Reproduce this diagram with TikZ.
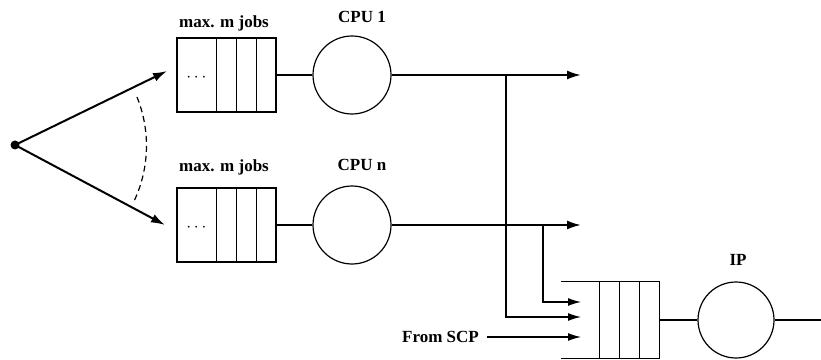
\documentclass[tikz,border=0pt]{standalone}
\usepackage{fontspec}
\setmainfont{Liberation Serif}
\usetikzlibrary{arrows.meta,calc,positioning}

\tikzset{
  queue/.style={draw, line width=1.2pt, minimum width=99pt, minimum height=74pt, inner sep=0pt},
  server/.style={draw, circle, line width=1.2pt, minimum size=78pt, inner sep=0pt},
  flow/.style={line width=2pt, -{Latex[length=14pt,width=9pt]}},
  feed/.style={line width=1.2pt, -{Latex[length=13pt,width=8pt]}},
  tag/.style={font=\fontsize{17}{20}\selectfont\bfseries, inner sep=0pt},
}

\begin{document}
\begin{tikzpicture}[x=1pt,y=1pt]
  \useasboundingbox (0,0) rectangle (821,359);
  % job source
  \node[circle, fill, inner sep=0pt, minimum size=9pt] (src) at (15,214) {};
  \coordinate (in1) at (167,288);
  \coordinate (in2) at (165,134);
  \draw[flow] (src.center) -- (in1);
  \draw[flow] (src.center) -- (in2);
  \draw[line width=1.2pt, dash pattern=on 6pt off 4pt] (137,262) arc[start angle=22, end angle=-25, radius=130];
  % CPU 1
  \node[queue] (q1) at (226.5,284) {};
  \foreach \dx in {40,60,80}
    \draw[line width=1.2pt] ($(q1.north west)+(\dx,0)$) -- ($(q1.south west)+(\dx,0)$);
  \node[tag] at ($(q1.west)+(20,-3)$) {$\cdots$};
  \node[tag] at (224,336) {max. m jobs};
  \node[server] (cpu1) at (352,284) {};
  \node[tag] at (362,342) {CPU 1};
  \draw[line width=1.2pt] (q1) -- (cpu1);
  \coordinate (o1) at (581,284);
  \coordinate (j1) at (506,284);
  \draw[flow] (cpu1) -- (o1);
  % CPU n
  \node[queue] (q2) at (226.5,134) {};
  \foreach \dx in {40,60,80}
    \draw[line width=1.2pt] ($(q2.north west)+(\dx,0)$) -- ($(q2.south west)+(\dx,0)$);
  \node[tag] at ($(q2.west)+(20,-3)$) {$\cdots$};
  \node[tag] at (224,192) {max. m jobs};
  \node[server] (cpun) at (352,134) {};
  \node[tag] at (362,194) {CPU n};
  \draw[line width=1.2pt] (q2) -- (cpun);
  \coordinate (o2) at (581,134);
  \coordinate (j2) at (543,134);
  \draw[flow] (cpun) -- (o2);
  % into IP
  \coordinate (t1) at (581,42);
  \coordinate (t2) at (581,57);
  \coordinate (t3) at (581,22);
  \draw[feed] (j1) |- (t1);
  \draw[feed] (j2) |- (t2);
  \node[tag, anchor=east] (scp) at (479,22) {From SCP};
  \draw[feed, shorten <=8pt] (scp.east) -- (t3);
  % IP
  \node[inner sep=0pt, minimum width=98pt, minimum height=76pt] (ipq) at (610,39) {};
  \draw[line width=1.2pt] (ipq.north west) -- (ipq.north east) -- (ipq.south east) -- (ipq.south west);
  \foreach \dx in {39,59,79}
    \draw[line width=1.2pt] ($(ipq.north west)+(\dx,0)$) -- ($(ipq.south west)+(\dx,0)$);
  \node[server, minimum size=76pt] (ip) at (736,39) {};
  \node[tag] at (738,99) {IP};
  \coordinate (out) at (821,39);
  \draw[line width=1.2pt] (ipq.east) -- (ip);
  \draw[line width=1.2pt] (ip) -- (out);
\end{tikzpicture}
\end{document}
